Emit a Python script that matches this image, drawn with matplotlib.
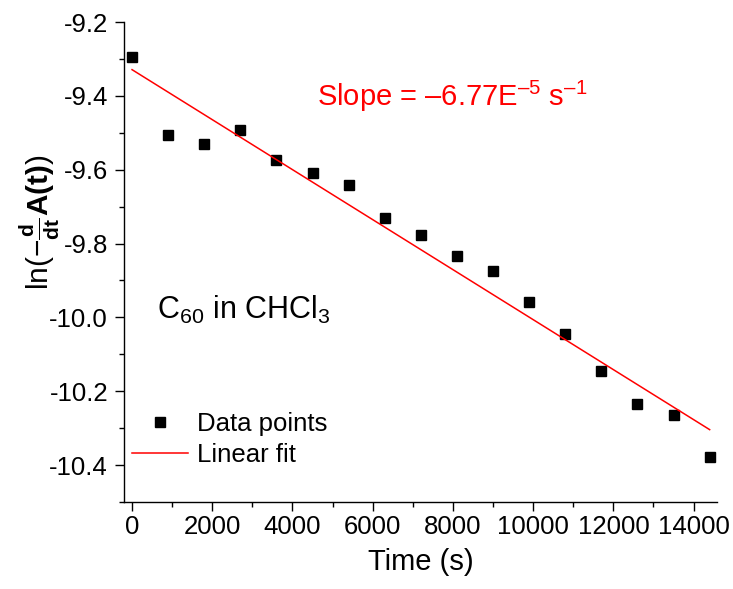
import matplotlib
matplotlib.use("Agg")
import matplotlib.pyplot as plt
from matplotlib.ticker import MultipleLocator

# sampling times (s) and ln(-dA/dt) values
time_s = [0, 900, 1800, 2700, 3600, 4500, 5400, 6300, 7200,
          8100, 9000, 9900, 10800, 11700, 12600, 13500, 14400]
ln_rate = [-9.295, -9.506, -9.530, -9.492, -9.575, -9.609, -9.641, -9.730, -9.778,
           -9.834, -9.873, -9.958, -10.046, -10.145, -10.235, -10.264, -10.379]

# linear fit end points
fit_t = [0, 14400]
fit_y = [-9.329, -10.304]

plt.rcParams["font.family"] = ["Liberation Sans", "DejaVu Sans"]
plt.rcParams["mathtext.fontset"] = "custom"
plt.rcParams["mathtext.rm"] = "Liberation Sans"
plt.rcParams["mathtext.it"] = "Liberation Sans:italic"
plt.rcParams["mathtext.bf"] = "Liberation Sans:bold"
plt.rcParams["axes.unicode_minus"] = False

fig = plt.figure(figsize=(7.33, 5.89), dpi=100)
ax = fig.add_axes([0.1692, 0.1477, 0.978 - 0.1692, 0.9626 - 0.1477])

ax.plot(time_s, ln_rate, linestyle="none", marker="s", markersize=7.2,
        color="black", label="Data points")
ax.plot(fit_t, fit_y, color="#ff0000", linewidth=1.1, label="Linear fit")

ax.set_xlim(-200, 14580)
ax.set_ylim(-10.5, -9.2)
ax.xaxis.set_major_locator(MultipleLocator(2000))
ax.xaxis.set_minor_locator(MultipleLocator(1000))
ax.yaxis.set_major_locator(MultipleLocator(0.2))
ax.yaxis.set_minor_locator(MultipleLocator(0.1))
ax.yaxis.set_major_formatter(plt.FuncFormatter(lambda v, p: f"{v:.1f}"))

for side in ("top", "right"):
    ax.spines[side].set_visible(False)
for side in ("left", "bottom"):
    ax.spines[side].set_linewidth(1.0)

ax.tick_params(which="major", direction="out", length=6.5, width=1.0, labelsize=18.5)
ax.tick_params(which="minor", direction="out", length=3.6, width=1.0)
ax.tick_params(axis="y", pad=5)
ax.tick_params(axis="x", pad=3)

ax.set_xlabel("Time (s)", fontsize=21, labelpad=6)
ax.set_ylabel(r"$\mathrm{ln}(-\frac{\mathbf{d}}{\mathbf{dt}}\mathbf{A(t)})$", fontsize=21.5)
ax.yaxis.set_label_coords(-0.105, 0.583)

ax.text(0.326, 0.845, "Slope = \u20136.77E$^{\u20135}$ s$^{\u20131}$", color="#ff0000",
        fontsize=21, transform=ax.transAxes, va="center", ha="left")
ax.text(0.056, 0.40, "C$_{60}$ in CHCl$_{3}$", color="black",
        fontsize=22, transform=ax.transAxes, va="center", ha="left")

ax.legend(loc="lower left", bbox_to_anchor=(0.013, 0.072), frameon=False, fontsize=18.5,
          handlelength=2.2, handletextpad=0.35, labelspacing=0.3, borderpad=0,
          borderaxespad=0)

fig.savefig("out.png", dpi=100)
